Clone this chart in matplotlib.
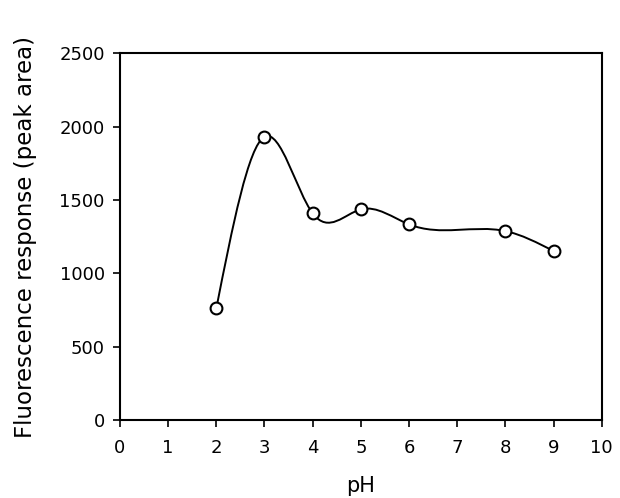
import numpy as np
import matplotlib
matplotlib.use("Agg")
import matplotlib.pyplot as plt
from matplotlib.path import Path
from matplotlib.patches import PathPatch

ph = [2, 3, 4, 5, 6, 8, 9]
response = [761, 1931, 1409, 1436, 1334, 1288, 1152]
x_ticks = list(range(0, 11))
y_ticks = [0, 500, 1000, 1500, 2000, 2500]

plt.rcParams['font.family'] = ['DejaVu Sans']

fig = plt.figure(figsize=(6.2, 4.98), dpi=100)
ax = fig.add_axes([0.1935, 0.1566, 0.9705 - 0.1935, 0.893 - 0.1566])

# natural cubic spline derivatives -> Bezier segments
x = np.asarray(ph, float)
y = np.asarray(response, float)
n = len(x)
h = np.diff(x)
A = np.zeros((n, n))
b = np.zeros(n)
A[0, 0] = 1
A[-1, -1] = 1
for i in range(1, n - 1):
    A[i, i - 1] = h[i - 1]
    A[i, i] = 2 * (h[i - 1] + h[i])
    A[i, i + 1] = h[i]
    b[i] = 6 * ((y[i + 1] - y[i]) / h[i] - (y[i] - y[i - 1]) / h[i - 1])
M = np.linalg.solve(A, b)
d = np.zeros(n)
for i in range(n - 1):
    d[i] = (y[i + 1] - y[i]) / h[i] - h[i] * (2 * M[i] + M[i + 1]) / 6
d[-1] = (y[-1] - y[-2]) / h[-1] + h[-1] * (M[-2] + 2 * M[-1]) / 6

verts = [(x[0], y[0])]
codes = [Path.MOVETO]
for i in range(n - 1):
    hi = h[i]
    verts += [(x[i] + hi / 3, y[i] + d[i] * hi / 3),
              (x[i + 1] - hi / 3, y[i + 1] - d[i + 1] * hi / 3),
              (x[i + 1], y[i + 1])]
    codes += [Path.CURVE4] * 3
ax.add_patch(PathPatch(Path(verts, codes), facecolor='none', edgecolor='black', lw=1.4, zorder=2))

ax.plot(ph, response, linestyle='none', marker='o', markersize=8.5,
        markerfacecolor='white', markeredgecolor='black', markeredgewidth=1.5, zorder=3)

ax.set_xlim(0, 10)
ax.set_ylim(0, 2500)
ax.set_xticks(x_ticks)
ax.set_yticks(y_ticks)
ax.tick_params(direction='out', length=5, width=1.2, labelsize=13)
ax.tick_params(axis='x', pad=9)
ax.tick_params(axis='y', pad=6)
for s in ax.spines.values():
    s.set_linewidth(1.5)
ax.set_xlabel('pH', fontsize=15, labelpad=13)
ax.set_ylabel('Fluorescence response (peak area)', fontsize=16.5, labelpad=16)

fig.savefig('out.png', dpi=100)
